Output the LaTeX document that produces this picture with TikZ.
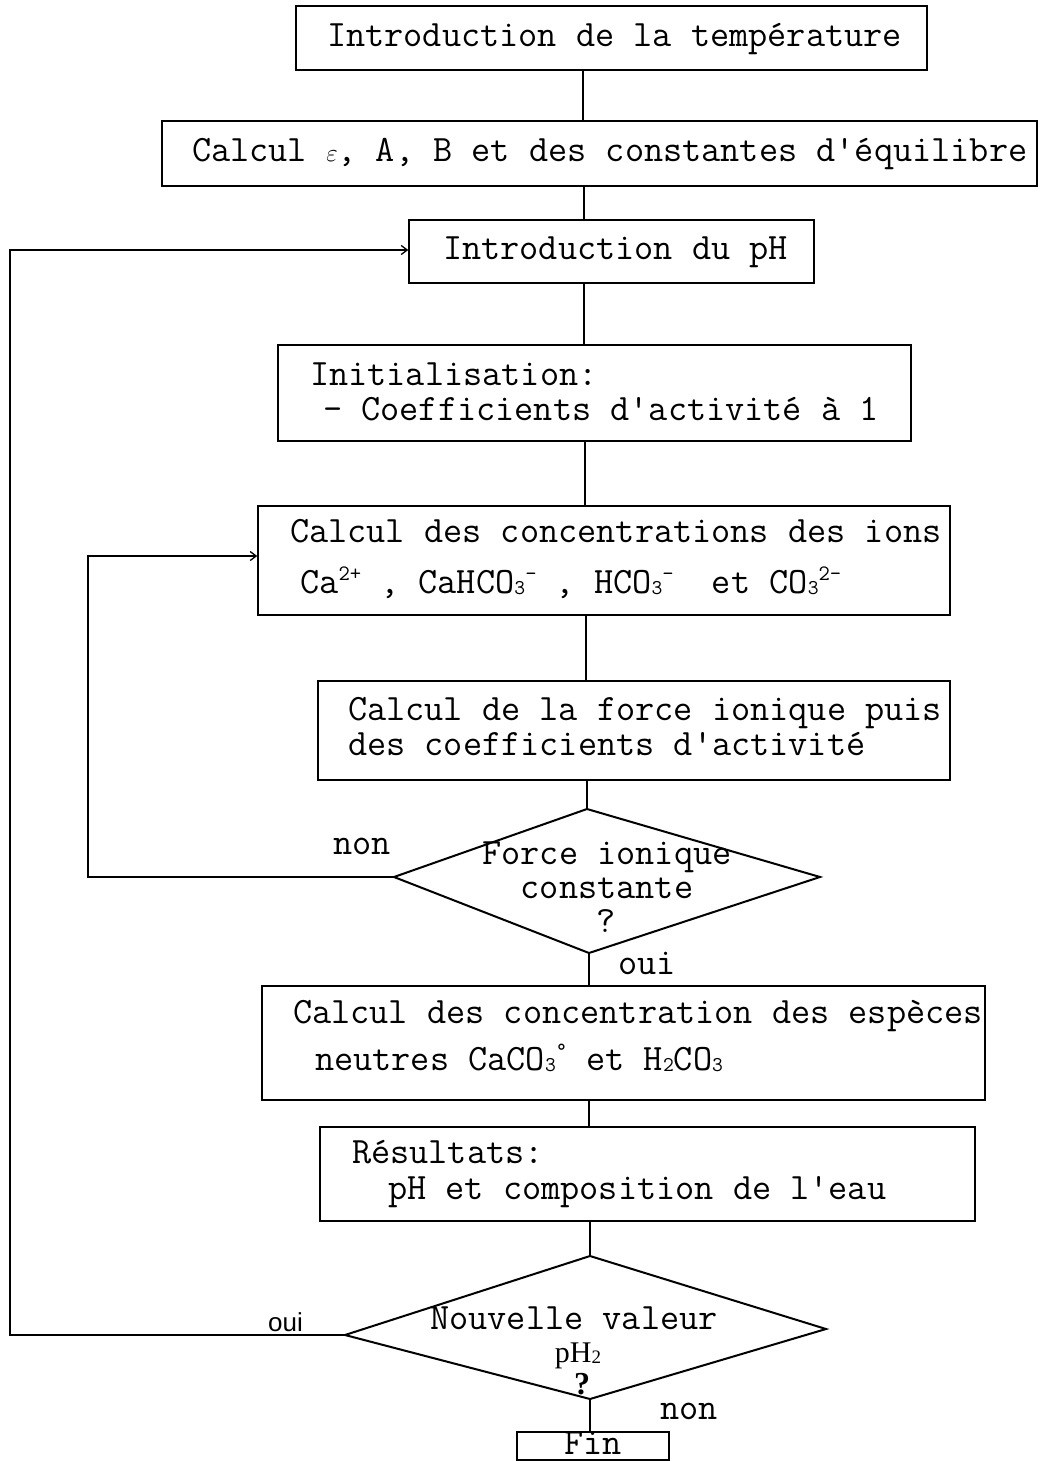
\documentclass[tikz,border=0pt]{standalone}
\usepackage{fontspec}
\newfontfamily\sansf{Liberation Sans}
\newfontfamily\seriff{Liberation Serif}
\usetikzlibrary{arrows.meta}
\newcommand\msz{\fontsize{37.2}{42}\selectfont\ttfamily}
\newcommand\csup[1]{\raisebox{13pt}{\fontsize{22}{22}\selectfont #1}}
\newcommand\csub[1]{\raisebox{-1pt}{\fontsize{21}{21}\selectfont #1}}
\begin{document}
\begin{tikzpicture}[x=1pt,y=-1pt,
  box/.style={draw,line width=1.5pt,inner sep=0pt},
  txt/.style={inner sep=0pt,anchor=base west,font=\msz},
  ctxt/.style={inner sep=0pt,anchor=base,font=\msz},
  conn/.style={line width=1.3pt},
  arr/.style={line width=1.3pt,-{Straight Barb[length=6pt,width=9pt]}},
  dia/.style={line width=2pt,line join=miter}]
\useasboundingbox (0,0) rectangle (1044,1461);

% boxes
\node[box,minimum width=631pt,minimum height=64pt] (b1) at (611.5,38) {};
\node[box,minimum width=875pt,minimum height=65pt] (b2) at (599.5,153.5) {};
\node[box,minimum width=405pt,minimum height=63pt] (b3) at (611.5,251.5) {};
\node[box,minimum width=633pt,minimum height=96pt] (b4) at (594.5,393) {};
\node[box,minimum width=692pt,minimum height=109pt] (b5) at (604,560.5) {};
\node[box,minimum width=632pt,minimum height=99pt] (b6) at (634,730.5) {};
\node[box,minimum width=723pt,minimum height=114pt] (b8) at (623.5,1043) {};
\node[box,minimum width=655pt,minimum height=94pt] (b9) at (647.5,1174) {};
\node[box,minimum width=152pt,minimum height=28pt] (fin) at (593,1446) {};

% texts in boxes
\node[txt] (t1) at (327,47) {Introduction de la température};
\node[txt] (t2) at (192,161) {Calcul $\varepsilon$, A, B et des constantes d'équilibre};
\node[txt] (t3) at (443,259) {Introduction du pH};
\node[txt] (t4a) at (310,385) {Initialisation:};
\node[txt] (t4b) at (323,420) {- Coefficients d'activité à 1};
\node[txt] (t5a) at (290,542) {Calcul des concentrations des ions};
\node[txt] (t5b) at (300,593) {Ca\csup{2+}\ , CaHCO\csub{3}\csup{-}\ , HCO\csub{3}\csup{-}\ \ et CO\csub{3}\csup{2-}};
\node[txt] (t6a) at (348,720) {Calcul de la force ionique puis};
\node[txt] (t6b) at (348,755) {des coefficients d'activité};
\node[txt] (t8a) at (293,1023) {Calcul des concentration des espèces};
\node[txt] (t8b) at (315,1070) {neutres CaCO\csub{3}\csup{°}\ et H\csub{2}CO\csub{3}};
\node[txt] (t9a) at (352,1163) {Résultats:};
\node[txt] (t9b) at (388,1199) {pH et composition de l'eau};
\node[ctxt] (tfin) at (593,1454) {Fin};

% diamond 1
\coordinate (d1t) at (587,809);
\coordinate (d1r) at (820,877);
\coordinate (d1b) at (589,953);
\coordinate (d1l) at (394,877);
\draw[dia] (d1t) -- (d1r) -- (d1b) -- (d1l) -- cycle;
\node[ctxt] (q1a) at (607,864) {Force ionique};
\node[ctxt] (q1b) at (607,898) {constante};
\node[ctxt] (q1c) at (606,932) {?};

% diamond 2
\coordinate (d2t) at (590,1256);
\coordinate (d2r) at (826,1329);
\coordinate (d2b) at (590,1399);
\coordinate (d2l) at (345,1335);
\draw[dia] (d2t) -- (d2r) -- (d2b) -- (d2l) -- cycle;
\node[ctxt] (q2a) at (574,1329) {Nouvelle valeur};
\node[inner sep=0pt,anchor=base,font=\fontsize{30}{32}\selectfont\seriff] (q2b) at (578,1362) {pH\raisebox{-1pt}{\fontsize{19}{19}\selectfont 2}};
\node[inner sep=0pt,anchor=base,font=\fontsize{32}{34}\selectfont\seriff\bfseries] (q2c) at (582,1394) {?};

% labels
\node[txt] (lnon1) at (333,854) {non};
\node[txt] (loui1) at (618,974) {oui};
\node[txt] (lnon2) at (660,1419) {non};
\node[inner sep=0pt,anchor=base west,font=\fontsize{26}{28}\selectfont\sansf] (loui2) at (268,1331) {oui};

% vertical connectors
\coordinate (s1) at (583,0);
\coordinate (s2) at (584,0);
\coordinate (s3) at (585,0);
\coordinate (s4) at (586,0);
\coordinate (s5) at (589,0);
\draw[conn] (b1.south -| s1) -- (b2.north -| s1);
\draw[conn] (b2.south -| s2) -- (b3.north -| s2);
\draw[conn] (b3.south -| s2) -- (b4.north -| s2);
\draw[conn] (b4.south -| s3) -- (b5.north -| s3);
\draw[conn] (b5.south -| s4) -- (b6.north -| s4);
\draw[conn] (b6.south -| d1t) -- (d1t);
\draw[conn] (d1b) -- (b8.north -| d1b);
\draw[conn] (b8.south -| s5) -- (b9.north -| s5);
\draw[conn] (b9.south -| d2t) -- (d2t);
\draw[conn] (d2b) -- (fin.north -| d2b);

% loops
\coordinate (lp1) at (10,250);
\coordinate (lp2) at (88,556);
\draw[arr] (d2l) -| (lp1) -- (b3.west |- lp1);
\draw[arr] (d1l) -| (lp2) -- (b5.west |- lp2);
\end{tikzpicture}
\end{document}
